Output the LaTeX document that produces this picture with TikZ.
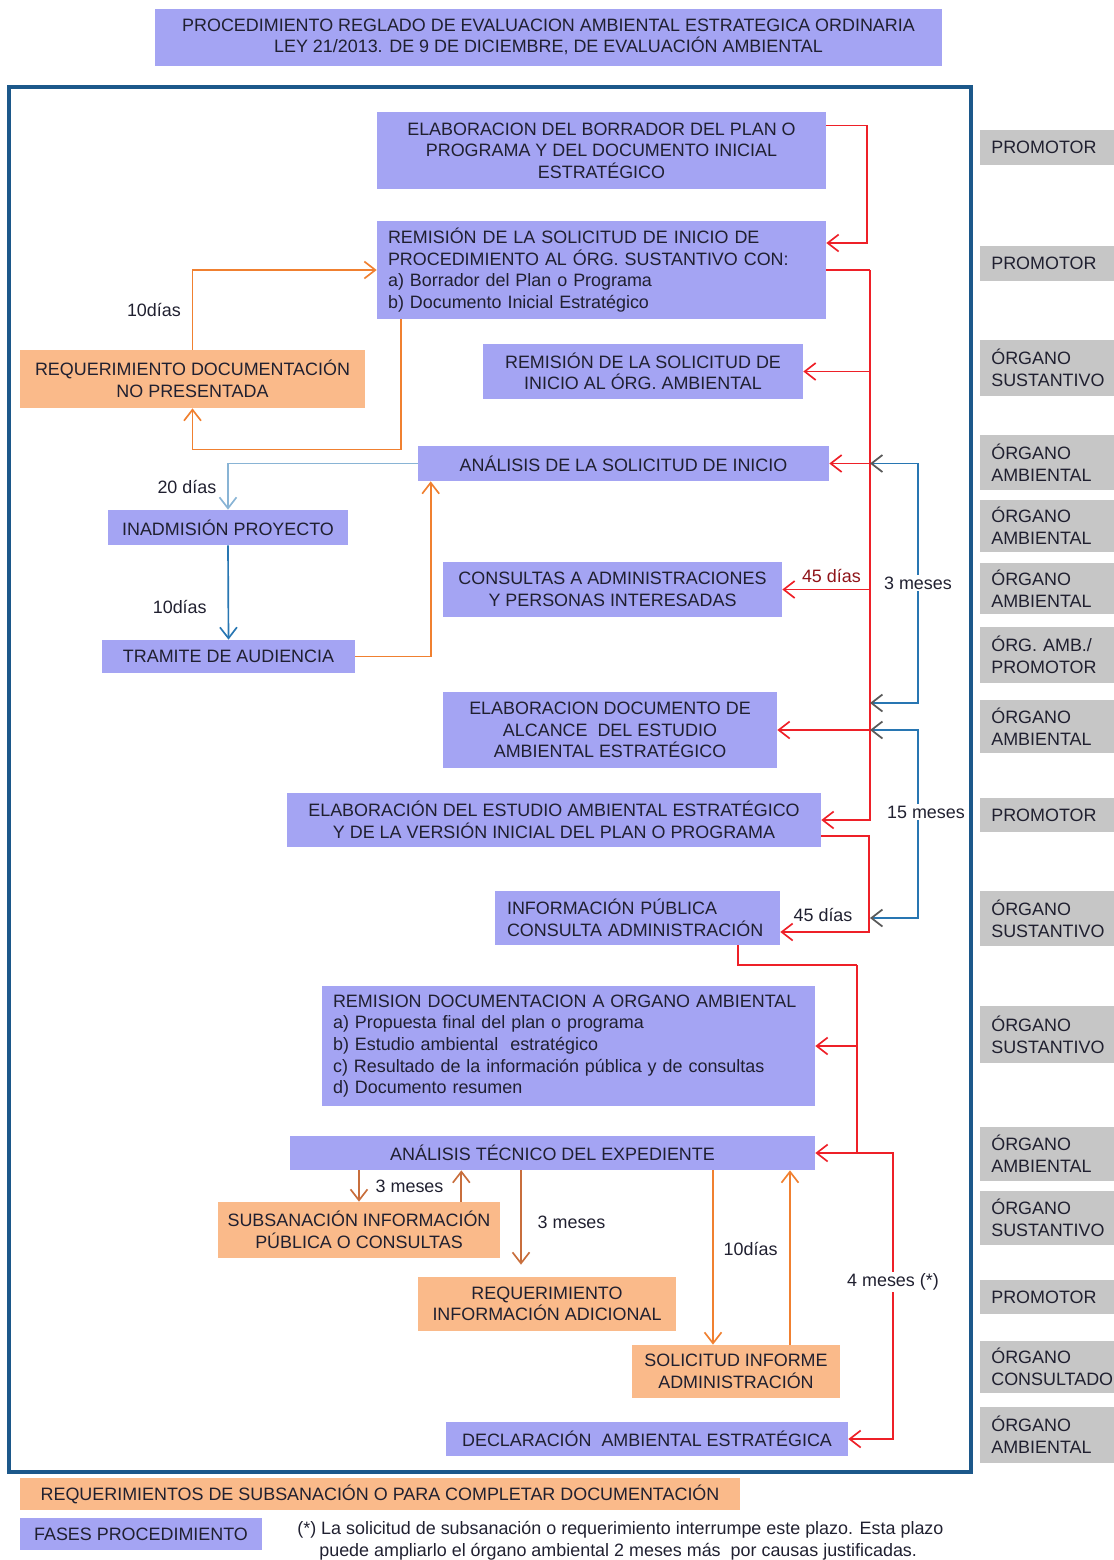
\documentclass[tikz,border=0pt]{standalone}
\usepackage{fontspec}
\setmainfont{Liberation Sans}
\usetikzlibrary{arrows.meta,positioning,calc}

\definecolor{fase}{RGB}{164,164,243}
\definecolor{subsan}{RGB}{250,186,138}
\definecolor{agente}{RGB}{198,198,198}
\definecolor{marco}{RGB}{28,88,138}
\definecolor{rojo}{RGB}{238,32,40}
\definecolor{naranja}{RGB}{240,128,48}
\definecolor{pardo}{RGB}{200,110,60}
\definecolor{acero}{RGB}{40,118,178}
\definecolor{tinta}{RGB}{32,32,48}

\begin{document}
\begin{tikzpicture}[x=0.02cm,y=-0.02cm,
  every node/.style={font=\fontsize{10.2}{12.3}\selectfont, text=tinta},
  >={Straight Barb[length=2.2mm,width=3.4mm]},
  fasebox/.style={fill=fase, inner sep=1pt, align=center},
  reqbox/.style={fill=subsan, inner sep=1pt, align=center},
  agentebox/.style={fill=agente, anchor=west, text width=2.6cm, inner xsep=0.22cm, align=left},
  plazo/.style={fill=white, inner sep=1pt},
  lrojo/.style={draw=rojo, line width=0.95pt},
  lnaranja/.style={draw=naranja, line width=0.95pt},
  lpardo/.style={draw=pardo, line width=0.95pt},
  lacero/.style={draw=acero, line width=0.95pt},
  tramo/.style={draw=acero, line width=1pt,
    arrows={Straight Barb[length=2.2mm,width=3.4mm,color=gray!70!black]-Straight Barb[length=2.2mm,width=3.4mm,color=gray!70!black]}}
]
  \useasboundingbox (0,0) rectangle (1114,1560);

  % title
  \node[fasebox, minimum width=15.74cm, minimum height=1.14cm] (titulo) at (548.5,37)
    {PROCEDIMIENTO REGLADO DE EVALUACION AMBIENTAL ESTRATEGICA ORDINARIA\\LEY 21/2013. DE 9 DE DICIEMBRE, DE EVALUACIÓN AMBIENTAL};

  % frame
  \draw[marco, line width=2.2pt] (9,87) rectangle (971,1472);

  % phases
  \node[fasebox, minimum width=8.98cm, minimum height=1.54cm] (borrador) at (601.5,150.5)
    {ELABORACION DEL BORRADOR DEL PLAN O\\PROGRAMA Y DEL DOCUMENTO INICIAL\\ESTRATÉGICO};
  \node[fasebox, text width=8.54cm, inner xsep=0.22cm, minimum height=1.96cm, align=left] (solicitud) at (601.5,270)
    {REMISIÓN DE LA SOLICITUD DE INICIO DE\\PROCEDIMIENTO AL ÓRG. SUSTANTIVO CON:\\a) Borrador del Plan o Programa\\b) Documento Inicial Estratégico};
  \node[fasebox, minimum width=6.4cm, minimum height=1.1cm] (remision) at (643,371.5)
    {REMISIÓN DE LA SOLICITUD DE\\INICIO AL ÓRG. AMBIENTAL};
  \node[fasebox, minimum width=8.22cm, minimum height=0.7cm] (analisis) at (623.5,463.5)
    {ANÁLISIS DE LA SOLICITUD DE INICIO};
  \node[fasebox, minimum width=6.78cm, minimum height=1.1cm] (consultas) at (612.5,589.5)
    {CONSULTAS A ADMINISTRACIONES\\Y PERSONAS INTERESADAS};
  \node[fasebox, minimum width=6.68cm, minimum height=1.52cm] (alcance) at (610,730)
    {ELABORACION DOCUMENTO DE\\ALCANCE\ \ DEL ESTUDIO\\AMBIENTAL ESTRATÉGICO};
  \node[fasebox, minimum width=10.68cm, minimum height=1.08cm] (estudio) at (554,820)
    {ELABORACIÓN DEL ESTUDIO AMBIENTAL ESTRATÉGICO\\Y DE LA VERSIÓN INICIAL DEL PLAN O PROGRAMA};
  \node[fasebox, text width=5.22cm, inner xsep=0.24cm, minimum height=1.08cm, align=left] (infopub) at (637.5,918)
    {INFORMACIÓN PÚBLICA\\CONSULTA ADMINISTRACIÓN};
  \node[fasebox, text width=9.42cm, inner xsep=0.22cm, minimum height=2.4cm, align=left] (documentacion) at (568.5,1046)
    {REMISION DOCUMENTACION A ORGANO AMBIENTAL\\a) Propuesta final del plan o programa\\b) Estudio ambiental\ \ estratégico\\c) Resultado de la información pública y de consultas\\d) Documento resumen};
  \node[fasebox, minimum width=10.5cm, minimum height=0.68cm] (tecnico) at (552.5,1153)
    {ANÁLISIS TÉCNICO DEL EXPEDIENTE};
  \node[fasebox, minimum width=8.04cm, minimum height=0.68cm] (declaracion) at (647,1439)
    {DECLARACIÓN\ \ AMBIENTAL ESTRATÉGICA};
  \node[fasebox, minimum width=4.8cm, minimum height=0.7cm] (inadmision) at (228,527.5)
    {INADMISIÓN PROYECTO};
  \node[fasebox, minimum width=5.06cm, minimum height=0.66cm] (audiencia) at (228.5,656.5)
    {TRAMITE DE AUDIENCIA};

  % requirements
  \node[reqbox, minimum width=6.9cm, minimum height=1.16cm] (reqdoc) at (192.5,379)
    {REQUERIMIENTO DOCUMENTACIÓN\\NO PRESENTADA};
  \node[reqbox, minimum width=5.64cm, minimum height=1.12cm] (subsanacion) at (359,1230)
    {SUBSANACIÓN INFORMACIÓN\\PÚBLICA O CONSULTAS};
  \node[reqbox, minimum width=5.16cm, minimum height=1.08cm] (reqinfo) at (547,1304)
    {REQUERIMIENTO\\INFORMACIÓN ADICIONAL};
  \node[reqbox, minimum width=4.16cm, minimum height=1.06cm] (informe) at (736,1371.5)
    {SOLICITUD INFORME\\ADMINISTRACIÓN};

  % legend
  \node[reqbox, minimum width=14.4cm, minimum height=0.64cm] (leyreq) at (380,1494)
    {REQUERIMIENTOS DE SUBSANACIÓN O PARA COMPLETAR DOCUMENTACIÓN};
  \node[fasebox, minimum width=4.84cm, minimum height=0.64cm] (leyfase) at (141,1534)
    {FASES PROCEDIMIENTO};
  \node[anchor=west, align=left, inner sep=0pt] (nota) at (297,1541)
    {(*) La solicitud de subsanación o requerimiento interrumpe este plazo. Esta plazo\\\hspace*{0.44cm}puede ampliarlo el órgano ambiental 2 meses más\ \ por causas justificadas.};

  % actors
  \node[agentebox, minimum height=0.7cm] (ag1) at (980,147.5) {PROMOTOR};
  \node[agentebox, minimum height=0.7cm] (ag2) at (980,263.5) {PROMOTOR};
  \node[agentebox, minimum height=1.12cm] (ag3) at (980,368) {ÓRGANO\\SUSTANTIVO};
  \node[agentebox, minimum height=1.1cm] (ag4) at (980,462.5) {ÓRGANO\\AMBIENTAL};
  \node[agentebox, minimum height=1.04cm] (ag5) at (980,526) {ÓRGANO\\AMBIENTAL};
  \node[agentebox, minimum height=1.02cm] (ag6) at (980,588.5) {ÓRGANO\\AMBIENTAL};
  \node[agentebox, minimum height=1.12cm] (ag7) at (980,655) {ÓRG. AMB./\\PROMOTOR};
  \node[agentebox, minimum height=1.06cm] (ag8) at (980,726.5) {ÓRGANO\\AMBIENTAL};
  \node[agentebox, minimum height=0.68cm] (ag9) at (980,815) {PROMOTOR};
  \node[agentebox, minimum height=1.1cm] (ag10) at (980,918.5) {ÓRGANO\\SUSTANTIVO};
  \node[agentebox, minimum height=1.14cm] (ag11) at (980,1034.5) {ÓRGANO\\SUSTANTIVO};
  \node[agentebox, minimum height=1.08cm] (ag12) at (980,1154) {ÓRGANO\\AMBIENTAL};
  \node[agentebox, minimum height=1.08cm] (ag13) at (980,1218) {ÓRGANO\\SUSTANTIVO};
  \node[agentebox, minimum height=0.68cm] (ag14) at (980,1297) {PROMOTOR};
  \node[agentebox, minimum height=1.04cm] (ag15) at (980,1367) {ÓRGANO\\CONSULTADO};
  \node[agentebox, minimum height=1.12cm] (ag16) at (980,1435) {ÓRGANO\\AMBIENTAL};

  % red flow
  \coordinate (eje) at (870,270);
  \draw[lrojo,->] ([yshift=-0.28cm]borrador.north east) -- ++(41,0) |- ([yshift=0.54cm]solicitud.east);
  \draw[lrojo] (solicitud.east) -- (eje);
  \draw[lrojo,->] (eje) |- (remision.east);
  \draw[lrojo,->] (eje) |- (analisis.east);
  \draw[lrojo,->] (eje) |- (consultas.east) node[pos=0.72, above, text=rojo!60!black] (p45a) {45 días};
  \draw[lrojo,->] (eje) |- (alcance.east);
  \draw[lrojo,->] (eje) |- (estudio.east);
  \draw[lrojo,->] ([yshift=-0.32cm]estudio.east) -- ++(48,0) |- ([yshift=-0.28cm]infopub.east)
    node[pos=0.76, above=2pt] (p45b) {45 días};
  \coordinate (eje2) at (857,965);
  \draw[lrojo] ([xshift=2.01cm]infopub.south) |- (eje2);
  \draw[lrojo,->] (eje2) |- (documentacion.east);
  \draw[lrojo,->] (eje2) |- (tecnico.east);
  \draw[lrojo,->] (tecnico.east -| eje2) -- ++(36,0) |- (declaracion.east)
    node[pos=0.225, plazo] (p4m) {4 meses (*)};

  % time spans
  \coordinate (t3a) at (analisis.east -| eje);
  \coordinate (t3b) at (870,703);
  \draw[tramo] (t3a) -- ++(48,0) |- (t3b) node[pos=0.25, plazo] (p3m) {3 meses};
  \coordinate (t15a) at (alcance.east -| eje);
  \coordinate (t15b) at (infopub.east -| eje);
  \draw[tramo] (t15a) -- ++(48,0) |- (t15b) node[pos=0.218, plazo, xshift=0.16cm] (p15m) {15 meses};

  % requirement loops
  \draw[lnaranja,->] (reqdoc.north) |- (solicitud.west) node[pos=0.25, left=0.1cm] (p10a) {10días};
  \draw[lnaranja,->] ([xshift=0.48cm]solicitud.south west) -- ++(0,130) -| (reqdoc.south);
  \draw[lnaranja,->] (audiencia.east) -| ([xshift=0.26cm]analisis.south west);
  \draw[lacero, draw=acero!55!white, ->] (analisis.west) -| (inadmision.north) node[pos=0.75, left=0.1cm] (p20) {20 días};
  \draw[lacero,->] (inadmision.south) -- (audiencia.north) node[pos=0.65, left=0.3cm] (p10b) {10días};

  % technical analysis
  \draw[lpardo,->] (tecnico.south -| subsanacion.north) -- (subsanacion.north)
    node[midway, right=0.2cm] (p3s) {3 meses};
  \coordinate (subsup) at ([xshift=-0.78cm]subsanacion.north east);
  \draw[lpardo,->] (subsup) -- (subsup |- tecnico.south);
  \coordinate (reqtop) at ([xshift=-0.52cm,yshift=0.24cm]reqinfo.north);
  \draw[lpardo,->] (tecnico.south -| reqtop) -- (reqtop) node[pos=0.55, right=0.2cm] (p3r) {3 meses};
  \coordinate (infbaja) at ([xshift=-0.46cm]informe.north);
  \coordinate (infsube) at ([xshift=1.08cm]informe.north);
  \draw[lnaranja,->] (tecnico.south -| infbaja) -- (infbaja) node[pos=0.45, right=0.08cm] (p10c) {10días};
  \draw[lnaranja,->] (infsube) -- (infsube |- tecnico.south);

\end{tikzpicture}
\end{document}
